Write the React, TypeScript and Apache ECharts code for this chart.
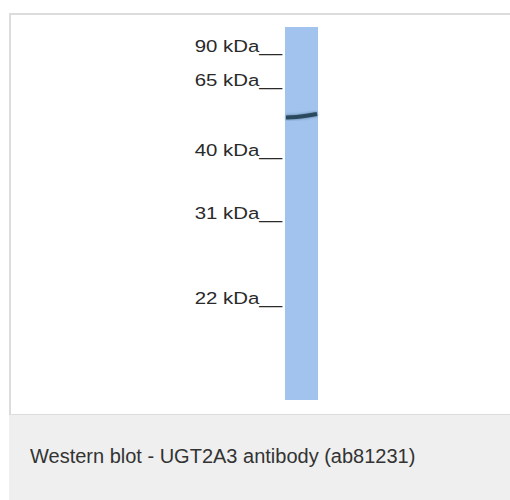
import React, { useEffect, useRef } from "react";
import * as echarts from "echarts";

// Marker ladder (kDa) and their migration distance (px from lane top)
const markerLabels = ["90 kDa__", "65 kDa__", "40 kDa__", "31 kDa__", "22 kDa__"];
const markerMigration = [19, 53, 123, 186, 271];
// Detected band: across the lane [lanePos, migration]
const bandPoints = [
  [0.03, 90.5],
  [0.35, 90],
  [0.7, 88.5],
  [0.97, 87],
];
const laneLength = 373;
const caption = "Western blot - UGT2A3 antibody (ab81231)";

export default function App() {
  const ref = useRef<HTMLDivElement>(null);
  useEffect(() => {
    if (!ref.current) return;
    const chart = echarts.init(ref.current, null, { renderer: "svg" });
    chart.setOption({
      animation: false,
      backgroundColor: "#ffffff",
      grid: {
        left: 285,
        top: 27,
        width: 33,
        height: 373,
        show: true,
        backgroundColor: "#a2c3ee",
        borderWidth: 0,
      },
      xAxis: { type: "value", min: 0, max: 1, show: false },
      yAxis: { type: "value", min: 0, max: laneLength, inverse: true, show: false },
      graphic: [
        {
          type: "rect",
          shape: { x: 10, y: 14, width: 520, height: 401 },
          style: { fill: "none", stroke: "#dcdcdc", lineWidth: 2 },
          silent: true,
        },
        {
          type: "rect",
          shape: { x: 9, y: 415, width: 510, height: 90 },
          style: { fill: "#eeefee" },
          silent: true,
        },
        {
          type: "text",
          x: 30,
          y: 456,
          style: {
            text: caption,
            fontSize: 20,
            fontFamily: "Liberation Sans, Arial, sans-serif",
            fill: "#333333",
            verticalAlign: "middle",
          },
          silent: true,
        },
      ],
      series: [
        {
          type: "line",
          data: bandPoints,
          smooth: true,
          showSymbol: false,
          lineStyle: {
            color: "#2c4a5e",
            width: 4,
            shadowColor: "rgba(40,70,90,0.6)",
            shadowBlur: 3,
          },
          z: 5,
        },
        {
          type: "custom",
          data: markerMigration.map((m, i) => [0, m, i]),
          renderItem: (params: any, api: any) => {
            const p = api.coord([0, api.value(1)]);
            const i = api.value(2);
            return {
              type: "text",
              x: p[0] - 3,
              y: p[1],
              scaleX: 1.2,
              style: {
                text: markerLabels[i],
                fontSize: 17,
                fontFamily: "Liberation Sans, Arial, sans-serif",
                fill: "#2a2a2a",
                align: "right",
                verticalAlign: "middle",
              },
            };
          },
          clip: false,
        },
      ],
    });
    return () => chart.dispose();
  }, []);
  return (
    <div
      ref={ref}
      style={{ position: "absolute", left: 0, top: 0, width: 510, height: 500 }}
    />
  );
}
